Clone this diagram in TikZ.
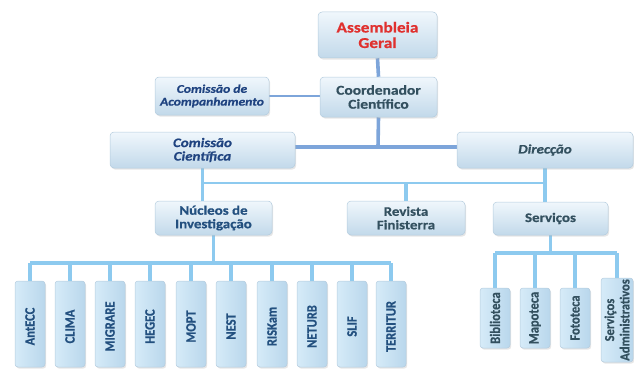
\documentclass[tikz,border=0pt]{standalone}
\usepackage{fontspec}
\setmainfont{Carlito}[BoldFeatures={FakeBold=0.6}, BoldItalicFeatures={FakeBold=0.6}]
\newfontfamily\wfont{Carlito}[FakeStretch=1.15, BoldFeatures={FakeBold=0.6}, BoldItalicFeatures={FakeBold=0.6}]
\usetikzlibrary{shadows,backgrounds}

\definecolor{linkdark}{HTML}{7DA5DA}
\definecolor{linklight}{HTML}{8DCAEF}
\definecolor{boxtop}{HTML}{F0F7FC}
\definecolor{boxbot}{HTML}{C2D9EA}
\definecolor{boxline}{HTML}{B4CCDE}
\definecolor{leafa}{HTML}{D6EBF8}
\definecolor{leafb}{HTML}{B9D7EC}
\definecolor{txtred}{HTML}{E0302E}
\definecolor{txtslate}{HTML}{33505F}
\definecolor{txtblue}{HTML}{1F4380}
\definecolor{txtleaf}{HTML}{23507F}

\newcommand{\vlabel}[1]{\rotatebox{90}{\scalebox{1}[1.15]{#1}\hspace{5pt}}}

\tikzset{
  softshadow/.style={drop shadow={shadow xshift=1.2pt, shadow yshift=-1.6pt, opacity=0.28, fill=gray!70}},
  orgbox/.style={rectangle, rounded corners=4pt, draw=boxline, line width=0.5pt,
    top color=boxtop, bottom color=boxbot, softshadow, inner sep=0pt, align=center,
    font=\wfont\bfseries\fontsize{13.5}{14}\selectfont, text=txtslate},
  leafbox/.style={rectangle, rounded corners=3pt, draw=boxline, line width=0.5pt,
    left color=leafa, right color=leafb, softshadow, inner sep=0pt,
    minimum width=30pt, font=\bfseries\fontsize{12.5}{13}\selectfont, text=txtleaf},
  thicklink/.style={draw=linkdark, line width=3.6pt},
  thinlink/.style={draw=linklight, line width=3.4pt},
  barlink/.style={draw=linklight, line width=2.2pt},
}

\begin{document}
\begin{tikzpicture}[x=1pt, y=-1pt]
\useasboundingbox (0,0) rectangle (634,369);

% governing bodies
\node[orgbox, minimum width=119pt, minimum height=46pt, text=txtred,
      font=\wfont\bfseries\fontsize{15}{15.5}\selectfont] (ag) at (377.5,35) {Assembleia\\Geral};
\node[orgbox, minimum width=117pt, minimum height=40pt] (cc) at (378.5,97) {Coordenador\\Científico};
\node[orgbox, minimum width=114pt, minimum height=38pt, text=txtblue,
      font=\wfont\bfseries\itshape\fontsize{11.8}{12.8}\selectfont] (ca) at (212,96) {Comissão de\\Acompanhamento};
\node[orgbox, minimum width=185pt, minimum height=36pt, text=txtblue,
      font=\wfont\bfseries\itshape\fontsize{13}{13.5}\selectfont] (cs) at (202.5,150) {Comissão\\Científica};
\node[orgbox, minimum width=176pt, minimum height=36pt,
      font=\wfont\bfseries\itshape\fontsize{13}{13.5}\selectfont] (di) at (545,150) {Direcção};

% second level
\node[orgbox, minimum width=117pt, minimum height=34pt, text=txtleaf,
      font=\wfont\bfseries\fontsize{13}{13.5}\selectfont] (nu) at (213.5,218) {Núcleos de\\Investigação};
\node[orgbox, minimum width=118pt, minimum height=34pt,
      font=\wfont\bfseries\fontsize{13}{13.5}\selectfont] (rv) at (406,218) {Revista\\Finisterra};
\node[orgbox, minimum width=115pt, minimum height=33pt,
      font=\wfont\bfseries\fontsize{13}{13.5}\selectfont] (sv) at (550.5,218.5) {Serviços};

% research groups
\foreach \name/\x [count=\i] in {AntECC/30, CLIMA/70, MIGRARE/110, HEGEC/150, MOPT/191,
                                NEST/231, RISKam/272, NETURB/312, SLIF/352, TERRITUR/391}
  \node[leafbox, minimum height=86pt] (g\i) at (\x,324) {\vlabel{\name}};

% services
\node[leafbox, minimum height=60pt, text=txtslate] (s1) at (495,318) {\rotatebox{90}{\scalebox{1}[1.15]{Biblioteca}}};
\node[leafbox, minimum height=60pt, text=txtslate] (s2) at (535,318) {\rotatebox{90}{\scalebox{1}[1.15]{Mapoteca}}};
\node[leafbox, minimum height=60pt, text=txtslate] (s3) at (575,318) {\rotatebox{90}{\scalebox{1}[1.15]{Fototeca}}};
\node[leafbox, minimum height=84pt, minimum width=32pt, text=txtslate,
      font=\bfseries\fontsize{12.5}{12}\selectfont] (s4) at (617,320)
  {\rotatebox{90}{\scalebox{1}[1.1]{\shortstack{Serviços\\Administrativos}}}};

% junction points
\coordinate (j1) at (378,147);
\coordinate (j2) at (203,183);
\coordinate (j3) at (212,263);
\coordinate (j4) at (553,253);

\begin{scope}[on background layer]
  \draw[thicklink] (ag.south) -- (cc.north);
  \draw[draw=linkdark, line width=2.4pt] (ca.east) -- (ca.east -| cc.west);
  \draw[thicklink] (cc.south) -- (j1);
  \draw[thicklink] (cs.east |- j1) -- (di.west |- j1);

  \draw[thinlink] (cs.south) -- (cs.south |- nu.north);
  \draw[barlink] (cs.south |- j2) -- (di.south |- j2);
  \draw[thinlink] (di.south) -- (di.south |- sv.north);
  \draw[thinlink] (rv.north |- j2) -- (rv.north);

  \draw[thinlink] (nu.south) -- (nu.south |- j3);
  \draw[thinlink] (g1 |- j3) -- (g10 |- j3);
  \foreach \i in {1,...,10}
    \draw[thinlink] (g\i |- j3) -- (g\i.north);

  \draw[thinlink] (sv.south) -- (sv.south |- j4);
  \draw[thinlink] (s1 |- j4) -- (s4 |- j4);
  \foreach \i in {1,...,4}
    \draw[thinlink] (s\i |- j4) -- (s\i.north);
\end{scope}
\end{tikzpicture}
\end{document}
